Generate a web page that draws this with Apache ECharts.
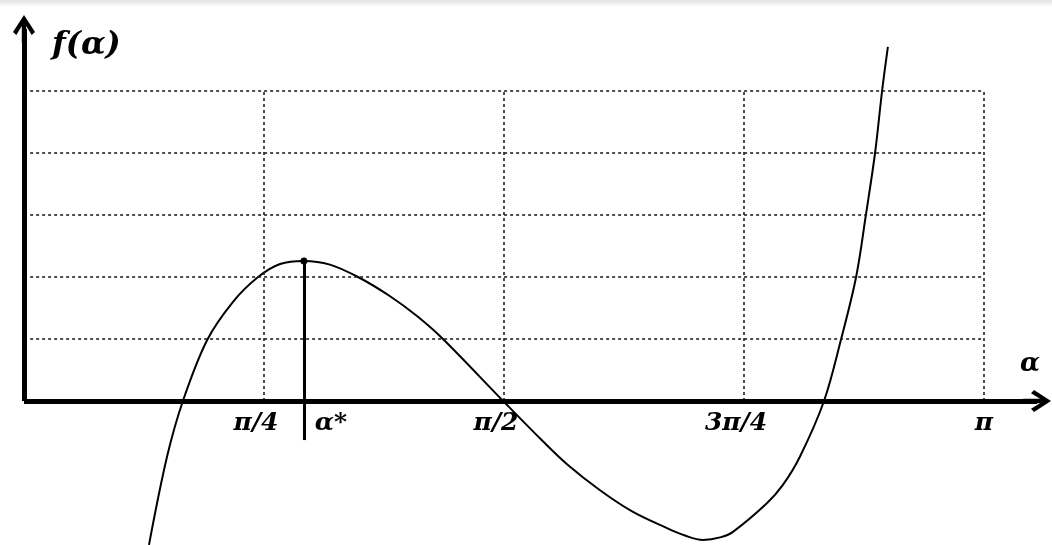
<!DOCTYPE html>
<html><head><meta charset="utf-8">
<script src="https://cdn.jsdelivr.net/npm/echarts@6/dist/echarts.min.js"></script>
<style>html,body{margin:0;padding:0;background:#fff}#c{width:1052px;height:545px}</style>
</head><body><div id="c"></div>
<script>
const PI = Math.PI;
// curve f(alpha): alpha in radians, f in grid units (one unit = one dotted row)
const alpha  = [0.409,0.468,0.520,0.599,0.684,0.766,0.838,0.916,1.001,1.093,1.198,1.286,1.371,1.568,1.698,1.777,1.885,1.993,2.104,2.163,2.222,2.278,2.320,2.431,2.484,2.539,2.618,2.674,2.723,2.755,2.785,2.808,2.827];
const fAlpha = [-2.32,-0.90,0,0.98,1.60,2.0,2.21,2.26,2.20,2.0,1.69,1.37,1.0,0,-0.65,-1.02,-1.44,-1.79,-2.05,-2.17,-2.24,-2.20,-2.11,-1.65,-1.35,-0.90,0,1.0,2.0,3.0,4.0,5.0,5.71];
// tick positions and labels
const tickAlpha  = [PI/4, PI/2, 3*PI/4, PI];
const tickLabels = ['π/4', 'π/2', '3π/4', 'π'];
const gridLevels = [1, 2, 3, 4, 5];
// alpha* marker
const alphaStar = 0.916;
const alphaStarTop = 2.26;
const alphaStarBottom = -0.63;
const alphaStarLabel = 'α*';
// axes extents
const xMin = 0, xMax = 3.3575, yMin = -2.35, yMax = 6.25;
const xArrowEnd = 3.315, yArrowEnd = 6.0;

const font = 'DejaVu Serif';
const arrowPath = 'path://M10,0 L20,17 L17,20 L12,11 L12,28 L8,28 L8,11 L3,20 L0,17 Z';

const GRID_TOP = 13.5, GRID_H = 533.2;
const zeroOffset = -GRID_H * (0 - yMin) / (yMax - yMin);

const curve = alpha.map((a, i) => [a, fAlpha[i]]);
const gridLines = [];
gridLevels.forEach(v => gridLines.push([{coord: [0.02, v]}, {coord: [PI, v]}]));
tickAlpha.forEach(a => gridLines.push([{coord: [a, 0]}, {coord: [a, gridLevels[gridLevels.length - 1]]}]));

const txt = {fontFamily: font, fontSize: 25, fontWeight: 'bold', fontStyle: 'italic', color: '#000'};
const labelValues = tickAlpha.concat([alphaStar]);

function helper(markLine) {
  return {type: 'line', data: [[0, 0]], showSymbol: false, lineStyle: {opacity: 0}, silent: true, markLine: markLine};
}

const chart = echarts.init(document.getElementById('c'));
chart.setOption({
  animation: false,
  backgroundColor: '#fff',
  graphic: [{type: 'rect', left: 0, top: 0, shape: {width: 1052, height: 7}, silent: true,
    style: {fill: new echarts.graphic.LinearGradient(0, 0, 0, 1, [{offset: 0, color: '#e2e2e2'}, {offset: 1, color: '#ffffff'}])}}],
  grid: {left: 24, top: GRID_TOP, width: 1026, height: GRID_H, outerBoundsMode: 'none', containLabel: false},
  xAxis: {
    type: 'value', min: xMin, max: xMax, position: 'bottom', offset: zeroOffset,
    axisLine: {show: true, onZero: false, lineStyle: {opacity: 0}},
    axisTick: {show: false}, splitLine: {show: false},
    axisLabel: {
      customValues: labelValues, margin: 10,
      formatter: function (v) {
        if (Math.abs(v - alphaStar) < 1e-6) return '{s|' + alphaStarLabel + '}';
        for (let i = 0; i < tickAlpha.length; i++) {
          if (Math.abs(v - tickAlpha[i]) < 1e-6) return (i === tickAlpha.length - 1 ? '{p|' : '{t|') + tickLabels[i] + '}';
        }
        return '';
      },
      rich: {
        t: Object.assign({padding: [0, 16, 0, 0]}, txt),
        p: Object.assign({}, txt),
        s: Object.assign({padding: [0, 0, 0, 54]}, txt)
      }
    },
    name: '{a|α}', nameLocation: 'end', nameGap: -30,
    nameTextStyle: {align: 'left', verticalAlign: 'bottom',
      rich: {a: {fontFamily: font, fontSize: 26, fontWeight: 'bold', fontStyle: 'italic', color: '#000', padding: [0, 0, 24, 0]}}}
  },
  yAxis: {
    type: 'value', min: yMin, max: yMax,
    axisLine: {show: false}, axisTick: {show: false}, axisLabel: {show: false}, splitLine: {show: false},
    name: 'f(α)', nameLocation: 'end', nameGap: -32,
    nameTextStyle: {fontFamily: font, fontSize: 32, fontWeight: 'bold', fontStyle: 'italic', color: '#000',
      align: 'left', verticalAlign: 'middle', padding: [0, 0, 0, 28]}
  },
  series: [
    helper({silent: true, symbol: ['none', 'none'], label: {show: false}, emphasis: {disabled: true},
      lineStyle: {color: '#222', width: 1.6, type: [3, 3]}, data: gridLines}),
    {
      type: 'line', data: curve, showSymbol: false, smooth: 0.35, clip: false, silent: true,
      lineStyle: {color: '#000', width: 2}
    },
    helper({silent: true, symbol: ['none', arrowPath], symbolSize: [22, 28], label: {show: false}, emphasis: {disabled: true},
      lineStyle: {color: '#000', width: 5, type: 'solid'},
      data: [[{coord: [0, 0]}, {coord: [xArrowEnd, 0]}], [{coord: [0, 0]}, {coord: [0, yArrowEnd]}]]}),
    helper({silent: true, symbol: ['circle', 'none'], symbolSize: 7, label: {show: false}, emphasis: {disabled: true},
      lineStyle: {color: '#000', width: 3, type: 'solid'}, itemStyle: {color: '#000'},
      data: [[{coord: [alphaStar, alphaStarTop]}, {coord: [alphaStar, alphaStarBottom]}]]})
  ]
});
</script></body></html>
